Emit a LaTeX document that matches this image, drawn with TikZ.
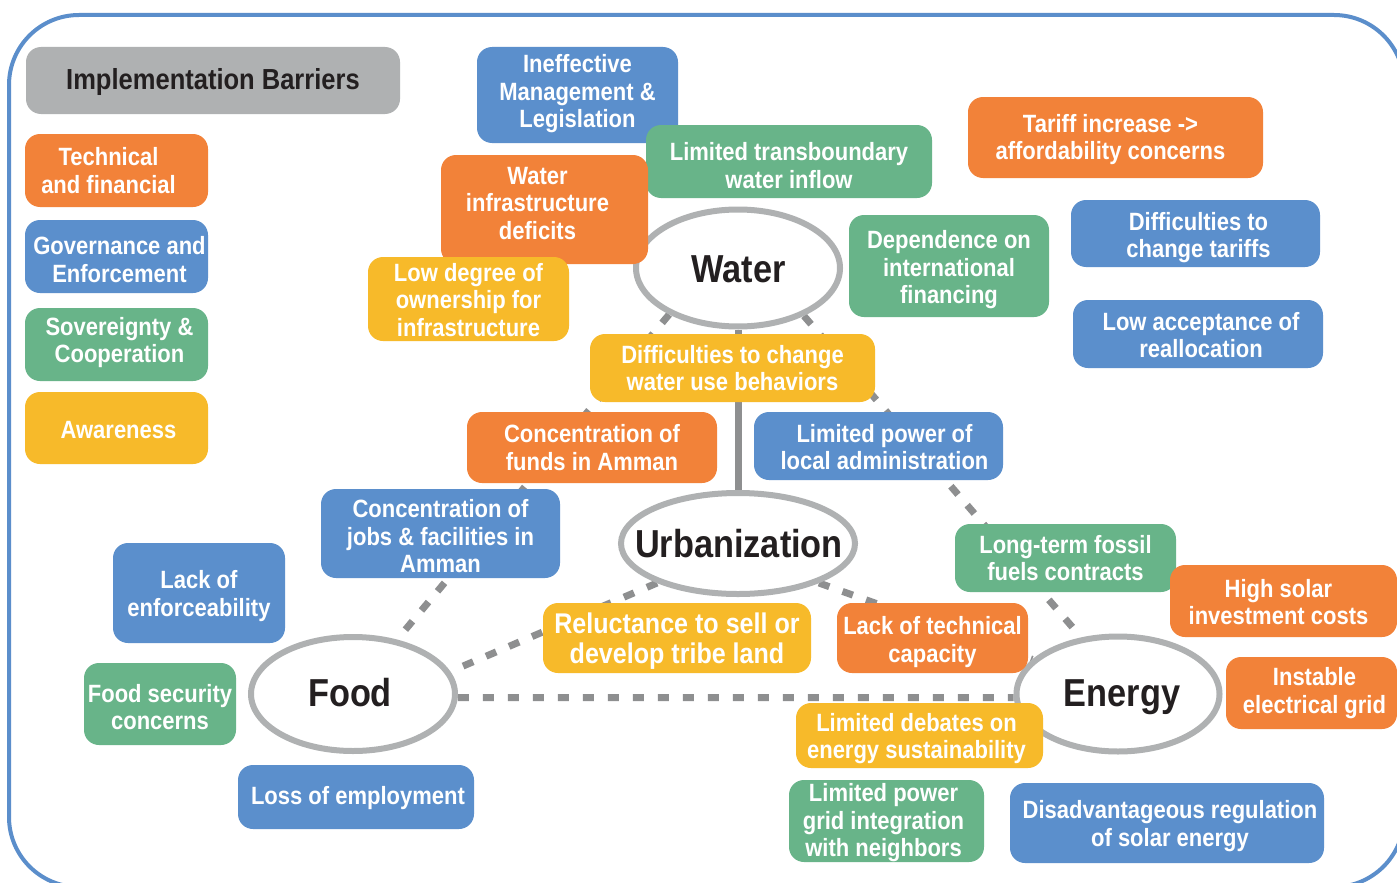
\documentclass[tikz,border=0pt]{standalone}
\usepackage{fontspec}
\setmainfont{Liberation Sans}[FakeStretch=0.88]
\usetikzlibrary{shapes.geometric,backgrounds}
\definecolor{cOr}{HTML}{F28239}
\definecolor{cBl}{HTML}{5B8FCC}
\definecolor{cGr}{HTML}{68B489}
\definecolor{cYe}{HTML}{F7BA2A}
\definecolor{cGy}{HTML}{AFB1B2}
\definecolor{cEl}{HTML}{AFB1B2}
\definecolor{cDs}{HTML}{8E8F90}
\definecolor{cTx}{HTML}{231F20}
\definecolor{cFr}{HTML}{5B8ECB}
\tikzset{
  box/.style={rounded corners=15pt, draw=none, inner sep=0pt},
  boxtxt/.style={text=white, align=center, inner sep=0pt,
    font=\fontsize{25}{27.5}\selectfont\bfseries},
  hub/.style={ellipse, draw=cEl, line width=6pt, fill=white, inner sep=0pt},
  hubtxt/.style={anchor=base, inner sep=0pt, text=cTx, font=\fontsize{39}{40}\selectfont\bfseries},
  dashln/.style={draw=cDs, line width=7pt, dash pattern=on 11pt off 14pt},
  solidln/.style={draw=cDs, line width=7pt},
  frame/.style={draw=cFr, line width=4pt, rounded corners=70pt},
}
% \bx[text options]{name}{x1}{y1}{x2}{y2}{colour}{text}
\newcommand\bx[8][]{%
  \node[box,fill=#7,minimum width={#5-#3},minimum height={#6-#4}] (#2) at ({(#3+#5)/2},{(#4+#6)/2}) {};
  \node[boxtxt,#1] (#2t) at (#2) {#8};}
\begin{document}
\begin{tikzpicture}[x=1pt,y=-1pt]
\useasboundingbox (0,0) rectangle (1397,883);

% hubs
\node[hub, minimum width=204, minimum height=117] (water) at (738,268) {};
\node[hub, minimum width=234, minimum height=101] (urb) at (738,543.5) {};
\node[hub, minimum width=204, minimum height=114] (food) at (353,694) {};
\node[hub, minimum width=203, minimum height=115] (energy) at (1118,694) {};
\node[hubtxt] (waterT) at (738.5,282) {Water};
\node[hubtxt] (urbT) at (739,557) {Urbanization};
\node[hubtxt] (foodT) at (350,706) {Food};
\node[hubtxt] (energyT) at (1122,706) {Energy};

% background, frame and connectors
\begin{pgfonlayer}{background}
\fill[white] (0,0) rectangle (1397,883);
\draw[frame] (9,15) rectangle (1404,887);
\draw[solidln] (water) -- (urb);
\draw[dashln] (water.214) -- (food.51);
\draw[dashln] (water.-36) -- (energy.123);
\draw[dashln] (urb.206) -- (food.13);
\draw[dashln] (urb.-26) -- (energy.158);
\draw[dashln] (food.-2) -- (energy.182);
\end{pgfonlayer}

% legend
\node[box, fill=cGy, minimum width=374, minimum height=67] (legend) at (213,80.5) {};
\node[inner sep=0pt, text=cTx, font=\fontsize{29}{30}\selectfont\bfseries, yshift=-2pt] (legendT) at (legend) {Implementation Barriers};
\bx[xshift=-8pt]{lTech}{25}{134}{208}{207}{cOr}{Technical\\and financial}
\bx[xshift=3pt,yshift=-3pt]{lGov}{25}{220}{208}{293}{cBl}{Governance and\\Enforcement}
\bx[xshift=3pt,yshift=2pt]{lSov}{25}{308}{208}{381}{cGr}{Sovereignty \&\\Cooperation}
\bx[xshift=2pt,yshift=-2pt]{lAw}{25}{392}{208}{464}{cYe}{Awareness}

% water barriers
\bx[yshift=1pt]{w1}{477}{47}{678}{143}{cBl}{Ineffective\\Management \&\\Legislation}
\bx[yshift=-4pt]{w2}{646}{125}{932}{198}{cGr}{Limited transboundary\\water inflow}
\bx[xshift=-7pt,yshift=6pt]{w3}{441}{155}{648}{264}{cOr}{Water\\infrastructure\\deficits}
\bx[yshift=-1pt]{w4}{368}{257}{569}{341}{cYe}{Low degree of\\ownership for\\infrastructure}
\bx[xshift=-5pt,yshift=-2pt]{w5}{968}{97}{1263}{178}{cOr}{Tariff increase ->\\affordability concerns}
\bx[xshift=3pt,yshift=-4pt]{w6}{1071}{200}{1320}{267}{cBl}{Difficulties to\\change tariffs}
\bx[yshift=-4pt]{w7}{849}{215}{1049}{317}{cGr}{Dependence on\\international\\financing}
\bx[xshift=3pt,yshift=-1pt]{w8}{1073}{300}{1323}{368}{cBl}{Low acceptance of\\reallocation}
\bx{w9}{590}{334}{875}{402}{cYe}{Difficulties to change\\water use behaviors}

% urbanization barriers
\bx{u1}{467}{412}{717}{483}{cOr}{Concentration of\\funds in Amman}
\bx[xshift=6pt,yshift=-1pt]{u2}{754}{412}{1003}{480}{cBl}{Limited power of\\local administration}
\bx[yshift=-3pt]{u3}{321}{489}{560}{578}{cBl}{Concentration of\\jobs \& facilities in\\Amman}
\bx[yshift=-3pt,font=\fontsize{28.5}{30}\selectfont\bfseries]{u4}{543}{603}{811}{673}{cYe}{Reluctance to sell or\\develop tribe land}
\bx[yshift=-4pt]{u5}{837}{603}{1028}{673}{cOr}{Lack of technical\\capacity}

% food barriers
\bx[yshift=-3pt]{f1}{113}{543}{285}{643}{cBl}{Lack of\\enforceability}
\bx[yshift=-3pt]{f2}{84}{663}{236}{745}{cGr}{Food security\\concerns}
\bx[xshift=2pt,yshift=-1pt]{f3}{238}{765}{474}{829}{cBl}{Loss of employment}

% energy barriers
\bx{e1}{955}{524}{1176}{592}{cGr}{Long-term fossil\\fuels contracts}
\bx[xshift=-5pt,yshift=-1pt]{e2}{1170}{565}{1397}{637}{cOr}{High solar\\investment costs}
\bx[xshift=3pt]{e3}{1226}{657}{1397}{729}{cOr}{Instable\\electrical grid}
\bx[xshift=-3pt,yshift=-3pt]{e4}{796}{703}{1043}{768}{cYe}{Limited debates on\\energy sustainability}
\bx[xshift=-3pt,yshift=-2pt]{e5}{789}{780}{984}{862}{cGr}{Limited power\\grid integration\\with neighbors}
\bx[xshift=3pt,yshift=-3pt]{e6}{1010}{783}{1324}{863}{cBl}{Disadvantageous regulation\\of solar energy}
\end{tikzpicture}
\end{document}
